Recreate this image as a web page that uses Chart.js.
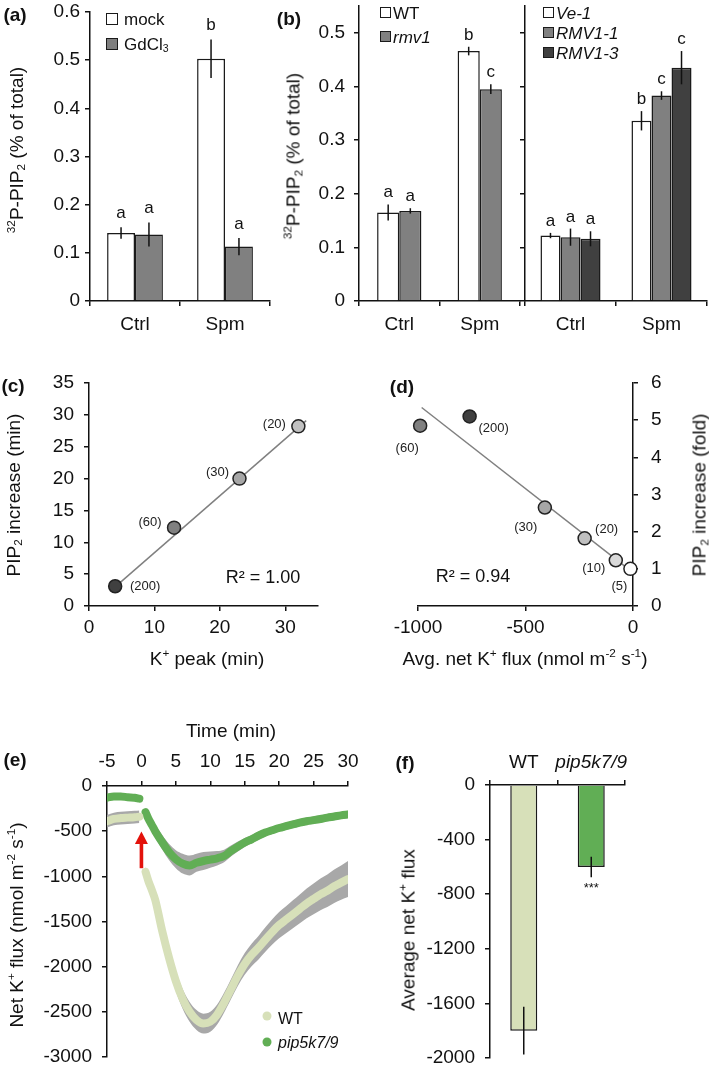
<!DOCTYPE html>
<html>
<head>
<meta charset="utf-8">
<script src="https://cdn.jsdelivr.net/npm/chart.js@4.4.0/dist/chart.umd.min.js"></script>
<style>
  html, body { margin: 0; padding: 0; background: #fff; }
  #page { position: relative; width: 709px; height: 1067px; overflow: hidden;
          font-family: "Liberation Sans", Arial, sans-serif; color: #111; }
  #page canvas { position: absolute; z-index: 0; }
  .t { position: absolute; z-index: 1; white-space: nowrap; font-size: 19px; line-height: 1; transform: translate(-50%, -50%); }
  .rot { transform: translate(-50%, -50%) rotate(-90deg); }
  .lbl { font-weight: bold; }
  .lg { position: absolute; z-index: 1; white-space: nowrap; font-size: 17px; line-height: 1; transform: translateY(-50%); }
  .sq { position: absolute; z-index: 1; box-sizing: border-box; border: 1.5px solid #1a1a1a; }
  .dot { position: absolute; z-index: 1; border-radius: 50%; width: 9px; height: 9px; transform: translate(-50%, -50%); }
  sup, sub { font-size: 0.62em; line-height: 0; }
  sup { vertical-align: 0.65em; }
  sub { vertical-align: -0.25em; }
</style>
</head>
<body>
<div id="page">
  <div class="t lbl" style="left:15px;top:14px">(a)</div>
  <div class="t lbl" style="left:289px;top:18px">(b)</div>
  <div class="t lbl" style="left:13px;top:385px">(c)</div>
  <div class="t lbl" style="left:402px;top:386px">(d)</div>
  <div class="t lbl" style="left:15px;top:759px">(e)</div>
  <div class="t lbl" style="left:405px;top:762px">(f)</div>

  <div class="t rot" style="left:16px;top:150px"><sup>32</sup>P-PIP<sub>2</sub> (% of total)</div>
  <div class="t rot" style="left:293px;top:156px"><sup>32</sup>P-PIP<sub>2</sub> (% of total)</div>
  <div class="t rot" style="left:13px;top:495px">PIP<sub>2</sub> increase (min)</div>
  <div class="t rot" style="left:699px;top:495px">PIP<sub>2</sub> increase (fold)</div>
  <div class="t rot" style="left:16px;top:925px">Net K<sup>+</sup> flux (nmol m<sup>-2</sup> s<sup>-1</sup>)</div>
  <div class="t rot" style="left:408px;top:930px">Average net K<sup>+</sup> flux</div>

  <div class="t" style="left:207px;top:658px">K<sup>+</sup> peak (min)</div>
  <div class="t" style="left:525px;top:658px">Avg. net K<sup>+</sup> flux (nmol m<sup>-2</sup> s<sup>-1</sup>)</div>
  <div class="t" style="left:231px;top:730px">Time (min)</div>
  <div class="t" style="left:263px;top:577px;font-size:18px">R² = 1.00</div>
  <div class="t" style="left:473px;top:576px;font-size:18px">R² = 0.94</div>

  <!-- legends -->
  <div class="sq" style="left:106px;top:13px;width:12px;height:12px;background:#fff"></div>
  <div class="lg" style="left:124px;top:19px">mock</div>
  <div class="sq" style="left:106px;top:38px;width:12px;height:12px;background:#7f7f7f"></div>
  <div class="lg" style="left:124px;top:44px">GdCl<sub>3</sub></div>

  <div class="sq" style="left:380px;top:7px;width:11px;height:11px;background:#fff"></div>
  <div class="lg" style="left:393px;top:13px">WT</div>
  <div class="sq" style="left:380px;top:31px;width:11px;height:11px;background:#808080"></div>
  <div class="lg" style="left:393px;top:37px"><i>rmv1</i></div>

  <div class="sq" style="left:543px;top:7px;width:11px;height:11px;background:#fff"></div>
  <div class="lg" style="left:556px;top:13px"><i>Ve-1</i></div>
  <div class="sq" style="left:543px;top:27px;width:11px;height:11px;background:#808080"></div>
  <div class="lg" style="left:556px;top:33px"><i>RMV1-1</i></div>
  <div class="sq" style="left:543px;top:47px;width:11px;height:11px;background:#404040"></div>
  <div class="lg" style="left:556px;top:53px"><i>RMV1-3</i></div>

  <div class="dot" style="left:267px;top:1016px;background:#d7e0b9"></div>
  <div class="lg" style="left:278px;top:1019px;font-size:16px">WT</div>
  <div class="dot" style="left:267px;top:1042px;background:#61ae55"></div>
  <div class="lg" style="left:278px;top:1043px;font-size:16px"><i>pip5k7/9</i></div>
</div>
<script>
// ---- data ----
// (a)
var aCats = ['Ctrl', 'Spm'];
var aMock = [0.141, 0.503];
var aMockErr = [0.012, 0.040];
var aMockLet = ['a', 'b'];
var aGd = [0.138, 0.113];
var aGdErr = [0.025, 0.018];
var aGdLet = ['a', 'a'];

// (b) left
var bCats = ['Ctrl', 'Spm'];
var bWt = [0.165, 0.466];
var bWtErr = [0.015, 0.008];
var bWtLet = ['a', 'b'];
var bRmv = [0.168, 0.395];
var bRmvErr = [0.005, 0.009];
var bRmvLet = ['a', 'c'];

// (b) right
var bVe = [0.122, 0.336];
var bVeErr = [0.005, 0.018];
var bVeLet = ['a', 'b'];
var bR1 = [0.119, 0.383];
var bR1Err = [0.016, 0.008];
var bR1Let = ['a', 'c'];
var bR3 = [0.116, 0.435];
var bR3Err = [0.014, 0.031];
var bR3Let = ['a', 'c'];

// (c)
var cPeak = [4, 13, 23, 32];
var cIncrease = [3.1, 12.3, 20, 28.2];
var cTags = ['(200)', '(60)', '(30)', '(20)'];
var cFitX = [4, 33.2];
var cFitY = [3.0, 29.1];

// (d)
var dFlux = [-990, -760, -410, -225, -80, -12];
var dFold = [4.85, 5.1, 2.65, 1.82, 1.23, 1.0];
var dTags = ['(60)', '(200)', '(30)', '(20)', '(10)', '(5)'];
var dFitX = [-983, 0];
var dFitY = [5.34, 0.9];

// (e)
var eTime = [-5, -4, -3, -2, -1, -0.3, 0.2, 0.6, 1, 1.5, 2,
  3, 4, 5, 6, 7, 8, 9, 10, 11, 12, 13, 14, 15, 16, 17, 18, 19, 20,
  21, 22, 23, 24, 25, 26, 27, 28, 29, 30];
var eWt = [-390, -365, -355, -350, -345, -340, null, -950, -1050, -1150, -1260,
  -1600, -1900, -2160, -2360, -2500, -2590, -2630, -2610, -2530, -2400, -2250, -2100, -1970, -1870, -1790, -1700, -1615, -1540,
  -1480, -1420, -1360, -1300, -1250, -1200, -1160, -1110, -1070, -1030];
var eWtErr = [70, 70, 70, 70, 70, 70, null, 60, 70, 80, 90,
  100, 110, 110, 110, 110, 110, 110, 110, 110, 110, 110, 115, 120, 125, 130, 135, 140, 145,
  150, 155, 160, 165, 170, 175, 180, 185, 190, 200];
var ePip = [-130, -115, -115, -125, -130, -140, null, -290, -360, -430, -500,
  -620, -730, -810, -860, -880, -850, -830, -815, -800, -775, -720, -670, -625, -590, -550, -515, -490, -465,
  -445, -425, -405, -390, -378, -365, -350, -338, -325, -315];
var ePipErr = [25, 25, 25, 25, 25, 25, null, 40, 50, 60, 70,
  80, 90, 100, 110, 110, 100, 100, 90, 80, 70, 60, 55, 50, 45, 45, 40, 40, 40,
  40, 40, 40, 40, 40, 40, 40, 40, 40, 40];
var eArrow = { at: 0, from: -910, to: -505 };

// (f)
var fCats = ['WT', 'pip5k7/9'];
var fFlux = [-1800, -600];
var fErr = [175, 75];
var fMarks = ['', '***'];

// ---- styles ----
var INK = '#111';
var EDGE = '#1a1a1a';
var FONT = '"Liberation Sans", Arial, sans-serif';
var WHITE = '#ffffff', GREY = '#808080', DARK = '#404040';
var WT_LIGHT = '#d7e0b9', PIP_GREEN = '#61ae55', BAND = '#a8a8a8';
var cColors = ['#404040', '#808080', '#a6a6a6', '#c0c0c0'];
var cTagOffsets = [[30, 0], [-24, -5], [-22, -6], [-24, -2]];
var dColors = ['#808080', '#404040', '#a6a6a6', '#c0c0c0', '#d9d9d9', '#ffffff'];
var dTagOffsets = [[-13, 23], [24, 12], [-19, 20], [22, -9], [-22, 8], [-11, 18]];

Chart.defaults.font.family = FONT;
Chart.defaults.font.size = 19;
Chart.defaults.color = INK;

function place(id, left, top, width, height) {
    var c = document.createElement('canvas');
    c.id = id;
    c.width = width;
    c.height = height;
    c.style.left = left + 'px';
    c.style.top = top + 'px';
    document.getElementById('page').appendChild(c);
    return c;
}

// pin a scale's box size so the chart area lands where it should
function fit(w, h) {
    return function (s) {
        if (w != null) s.width = w;
        if (h != null) s.height = h;
        s.paddingLeft = 0; s.paddingRight = 0; s.paddingTop = 0; s.paddingBottom = 0;
    };
}

function axis(o) {
    var base = {
        grid: { display: true, drawOnChartArea: false, drawTicks: true, tickLength: 5, color: INK, lineWidth: 1.5, offset: false },
        border: { display: true, color: INK, width: 1.5 },
        ticks: { color: INK, padding: 5, font: { size: 19 }, maxRotation: 0, minRotation: 0, autoSkip: false }
    };
    for (var k in o) {
        if (base[k] && typeof o[k] === 'object' && !Array.isArray(o[k])) Object.assign(base[k], o[k]);
        else base[k] = o[k];
    }
    return base;
}

function opts(extra) {
    var o = {
        responsive: false,
        animation: false,
        devicePixelRatio: 1,
        events: [],
        plugins: { legend: { display: false }, tooltip: { enabled: false } }
    };
    for (var k in extra) {
        if (k === 'plugins') Object.assign(o.plugins, extra.plugins);
        else o[k] = extra[k];
    }
    return o;
}

var dec1 = function (v) { return String(Math.round(v * 10) / 10); };
var plain = function (v) { return String(v); };

// error bars + significance letters
var barExtras = {
    id: 'barExtras',
    afterDatasetsDraw: function (chart) {
        var ctx = chart.ctx, y = chart.scales.y;
        chart.data.datasets.forEach(function (ds, di) {
            if (!ds.errors) return;
            var meta = chart.getDatasetMeta(di);
            meta.data.forEach(function (bar, i) {
                var v = ds.data[i], e = ds.errors[i];
                var yHi = y.getPixelForValue(v + e), yLo = y.getPixelForValue(v - e);
                ctx.save();
                ctx.strokeStyle = INK;
                ctx.lineWidth = 1.5;
                ctx.beginPath();
                ctx.moveTo(bar.x, yHi);
                ctx.lineTo(bar.x, yLo);
                ctx.stroke();
                var txt = ds.letters && ds.letters[i];
                if (txt) {
                    ctx.fillStyle = INK;
                    ctx.font = ds.letterFont || ('17px ' + FONT);
                    ctx.textAlign = 'center';
                    if (v >= 0) {
                        ctx.textBaseline = 'alphabetic';
                        ctx.fillText(txt, bar.x, yHi - (ds.letterGap || 7));
                    } else {
                        ctx.textBaseline = 'top';
                        ctx.fillText(txt, bar.x, yLo + (ds.letterGap || 4));
                    }
                }
                ctx.restore();
            });
        });
    }
};

// "(60)" style labels next to scatter points
var pointTags = {
    id: 'pointTags',
    afterDatasetsDraw: function (chart) {
        var ctx = chart.ctx;
        chart.data.datasets.forEach(function (ds, di) {
            if (!ds.tags) return;
            var meta = chart.getDatasetMeta(di);
            ctx.save();
            ctx.fillStyle = '#222';
            ctx.font = '13px ' + FONT;
            ctx.textAlign = 'center';
            ctx.textBaseline = 'middle';
            meta.data.forEach(function (pt, i) {
                var off = ds.tagOffsets[i];
                ctx.fillText(ds.tags[i], pt.x + off[0], pt.y + off[1]);
            });
            ctx.restore();
        });
    }
};

// red arrow marking the treatment in (e)
var arrowMark = {
    id: 'arrowMark',
    afterDatasetsDraw: function (chart, args, o) {
        if (o.at === undefined) return;
        var ctx = chart.ctx;
        var x = chart.scales.x.getPixelForValue(o.at);
        var yTail = chart.scales.y.getPixelForValue(o.from);
        var yTip = chart.scales.y.getPixelForValue(o.to);
        ctx.save();
        ctx.fillStyle = o.color;
        ctx.fillRect(x - 1.8, yTip + 11, 3.6, yTail - yTip - 11);
        ctx.beginPath();
        ctx.moveTo(x, yTip);
        ctx.lineTo(x - 6.5, yTip + 12.5);
        ctx.lineTo(x + 6.5, yTip + 12.5);
        ctx.closePath();
        ctx.fill();
        ctx.restore();
    }
};

function barSet(values, errs, letters, color) {
    return {
        data: values, errors: errs, letters: letters,
        backgroundColor: color, borderColor: EDGE, borderWidth: 1.5
    };
}

// ---- (a) ----
new Chart(place('chartA', 0, 0, 285, 345), {
    type: 'bar',
    data: {
        labels: aCats,
        datasets: [
            Object.assign(barSet(aMock, aMockErr, aMockLet, WHITE), { letterGap: 9 }),
            Object.assign(barSet(aGd, aGdErr, aGdLet, GREY), { letterGap: 9 })
        ]
    },
    options: opts({
        layout: { padding: { top: 12, right: 15, left: 0, bottom: 0 } },
        datasets: { bar: { categoryPercentage: 0.62, barPercentage: 1 } },
        scales: {
            x: axis({ grid: { offset: true }, ticks: { padding: 7 }, afterFit: fit(null, 44) }),
            y: axis({ min: 0, max: 0.6, ticks: { stepSize: 0.1, padding: 5, callback: dec1 }, afterFit: fit(90, null) })
        }
    }),
    plugins: [barExtras]
});

// ---- (b) left ----
new Chart(place('chartB1', 305, 0, 220, 345), {
    type: 'bar',
    data: {
        labels: bCats,
        datasets: [
            barSet(bWt, bWtErr, bWtLet, WHITE),
            barSet(bRmv, bRmvErr, bRmvLet, GREY)
        ]
    },
    options: opts({
        layout: { padding: { top: 6, right: 5, left: 0, bottom: 0 } },
        datasets: { bar: { categoryPercentage: 0.55, barPercentage: 1 } },
        scales: {
            x: axis({ grid: { offset: true }, ticks: { padding: 7 }, afterFit: fit(null, 44) }),
            y: axis({ min: 0, max: 0.55, ticks: { stepSize: 0.1, includeBounds: false, padding: 9, callback: dec1 }, afterFit: fit(54, null) })
        }
    }),
    plugins: [barExtras]
});

// ---- (b) right ----
new Chart(place('chartB2', 505, 0, 204, 345), {
    type: 'bar',
    data: {
        labels: bCats,
        datasets: [
            barSet(bVe, bVeErr, bVeLet, WHITE),
            barSet(bR1, bR1Err, bR1Let, GREY),
            barSet(bR3, bR3Err, bR3Let, DARK)
        ]
    },
    options: opts({
        layout: { padding: { top: 6, right: 2, left: 0, bottom: 0 } },
        datasets: { bar: { categoryPercentage: 0.66, barPercentage: 1 } },
        scales: {
            x: axis({ grid: { offset: true }, ticks: { padding: 7 }, afterFit: fit(null, 44) }),
            y: axis({ min: 0, max: 0.55, ticks: { stepSize: 0.1, includeBounds: false, display: false }, afterFit: fit(20, null) })
        }
    }),
    plugins: [barExtras]
});

// ---- (c) ----
new Chart(place('chartC', 0, 360, 345, 290), {
    type: 'scatter',
    data: {
        datasets: [
            {
                data: cPeak.map(function (x, i) { return { x: x, y: cIncrease[i] }; }),
                pointBackgroundColor: cColors, pointBorderColor: '#222', pointBorderWidth: 1.5, pointRadius: 6.5,
                tags: cTags, tagOffsets: cTagOffsets, order: 0, clip: false
            },
            {
                data: cFitX.map(function (x, i) { return { x: x, y: cFitY[i] }; }),
                showLine: true, borderColor: '#808080', borderWidth: 1.5, pointRadius: 0, order: 1, clip: false
            }
        ]
    },
    options: opts({
        layout: { padding: { top: 23, right: 27, left: 0, bottom: 0 } },
        scales: {
            x: axis({ type: 'linear', min: 0, max: 35, ticks: { stepSize: 10, includeBounds: false, padding: 5, callback: plain }, afterFit: fit(null, 44) }),
            y: axis({ type: 'linear', min: 0, max: 35, ticks: { stepSize: 5, padding: 10, callback: plain }, afterFit: fit(89, null) })
        }
    }),
    plugins: [pointTags]
});

// ---- (d) ----
new Chart(place('chartD', 360, 360, 349, 290), {
    type: 'scatter',
    data: {
        datasets: [
            {
                data: dFlux.map(function (x, i) { return { x: x, y: dFold[i] }; }),
                pointBackgroundColor: dColors, pointBorderColor: '#222', pointBorderWidth: 1.5, pointRadius: 6.5,
                tags: dTags, tagOffsets: dTagOffsets, order: 0, clip: false
            },
            {
                data: dFitX.map(function (x, i) { return { x: x, y: dFitY[i] }; }),
                showLine: true, borderColor: '#808080', borderWidth: 1.5, pointRadius: 0, order: 1, clip: false
            }
        ]
    },
    options: opts({
        layout: { padding: { top: 23, right: 0, left: 58, bottom: 0 } },
        scales: {
            x: axis({ type: 'linear', min: -1000, max: 0, ticks: { stepSize: 500, padding: 5, callback: plain }, afterFit: fit(null, 44) }),
            y: axis({ type: 'linear', position: 'right', min: 0, max: 6, ticks: { stepSize: 1, padding: 13, callback: plain }, afterFit: fit(76, null) })
        }
    }),
    plugins: [pointTags]
});

// ---- (e) ----
function series(vals) {
    return eTime.map(function (t, i) { return { x: t, y: vals[i] }; });
}
function shifted(vals, errs, sign) {
    return vals.map(function (v, i) { return v === null ? null : v + sign * errs[i]; });
}
var lineStyle = { pointRadius: 0, cubicInterpolationMode: 'monotone', borderCapStyle: 'round', borderJoinStyle: 'round', spanGaps: false };
var bandStyle = { pointRadius: 0, borderWidth: 0, borderColor: 'rgba(0,0,0,0)', cubicInterpolationMode: 'monotone', spanGaps: false, order: 2 };

new Chart(place('chartE', 0, 740, 360, 327), {
    type: 'line',
    data: {
        datasets: [
            Object.assign({ data: series(shifted(eWt, eWtErr, 1)), fill: false }, bandStyle),
            Object.assign({ data: series(shifted(eWt, eWtErr, -1)), fill: '-1', backgroundColor: BAND }, bandStyle),
            Object.assign({ data: series(shifted(ePip, ePipErr, 1)), fill: false }, bandStyle),
            Object.assign({ data: series(shifted(ePip, ePipErr, -1)), fill: '-1', backgroundColor: BAND }, bandStyle),
            Object.assign({ data: series(eWt), borderColor: WT_LIGHT, borderWidth: 8, fill: false, order: 0 }, lineStyle),
            Object.assign({ data: series(ePip), borderColor: PIP_GREEN, borderWidth: 8, fill: false, order: 0 }, lineStyle)
        ]
    },
    options: opts({
        layout: { padding: { top: 0, right: 12, left: 0, bottom: 10 } },
        plugins: { arrowMark: Object.assign({ color: '#e3120b' }, eArrow) },
        scales: {
            x: axis({ type: 'linear', position: 'top', min: -5, max: 30, ticks: { stepSize: 5, padding: 8, callback: plain }, afterFit: fit(null, 46) }),
            y: axis({ type: 'linear', min: -3000, max: 0, ticks: { stepSize: 500, padding: 10, callback: plain }, afterFit: fit(107, null) })
        }
    }),
    plugins: [arrowMark]
});

// ---- (f) ----
new Chart(place('chartF', 400, 740, 309, 327), {
    type: 'bar',
    data: {
        labels: fCats,
        datasets: [{
            data: fFlux, errors: fErr, letters: fMarks, letterFont: '13px ' + FONT, letterGap: 5,
            backgroundColor: [WT_LIGHT, PIP_GREEN], borderColor: EDGE, borderWidth: 1.5
        }]
    },
    options: opts({
        layout: { padding: { top: 0, right: 84, left: 0, bottom: 9 } },
        datasets: { bar: { categoryPercentage: 1, barPercentage: 0.4 } },
        scales: {
            x: axis({
                position: 'top', grid: { offset: true },
                ticks: { padding: 6, font: function (c) { return { size: 19, style: c.index === 1 ? 'italic' : 'normal' }; } },
                afterFit: fit(null, 45)
            }),
            y: axis({ min: -2000, max: 0, ticks: { stepSize: 400, padding: 10, callback: plain }, afterFit: fit(90, null) })
        }
    }),
    plugins: [barExtras]
});
</script>
</body>
</html>
